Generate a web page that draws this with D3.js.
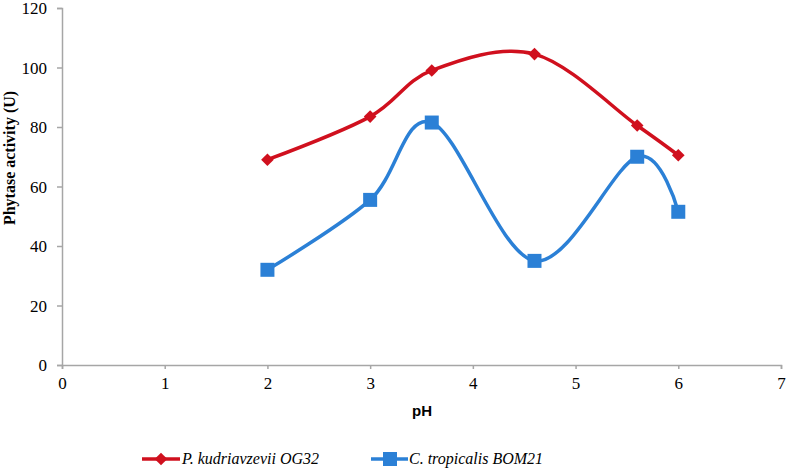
<!DOCTYPE html>
<html><head><meta charset="utf-8">
<script src="https://cdn.jsdelivr.net/npm/d3@7"></script>
<style>body{margin:0;background:#fff}svg{display:block}
.tick text{font-family:"Liberation Serif","Times New Roman",serif !important;}</style>
</head><body>
<svg id="c" width="787" height="468"></svg>
<script>
const phRed = [2, 3, 3.6, 4.6, 5.6, 6];
const redValues = [69, 83.5, 99, 104.5, 80.5, 70.5];
const phBlue = [2, 3, 3.6, 4.6, 5.6, 6];
const blueValues = [32, 55.5, 81.5, 35, 70, 51.5];
const xTicks = [0, 1, 2, 3, 4, 5, 6, 7];
const yTicks = [0, 20, 40, 60, 80, 100, 120];
const seriesNames = ["P. kudriavzevii OG32", "C. tropicalis BOM21"];
const colors = ["#d0101e", "#2b80d6"];

const svg = d3.select("#c");
const x = d3.scaleLinear().domain([0, 7]).range([62, 781]);
const y = d3.scaleLinear().domain([0, 120]).range([365, 8]);
const axisColor = "#a6a6a6";
const serif = "Liberation Serif, Times New Roman, serif";

// y axis
const ya = svg.append("g").attr("transform", `translate(${x(0)},0)`)
  .call(d3.axisLeft(y).tickValues(yTicks).tickFormat(d3.format("d")).tickSize(5).tickPadding(10));
ya.attr("font-family", serif).attr("font-size", 17);
ya.select(".domain").attr("stroke", axisColor).attr("stroke-width", 1.5);
ya.selectAll(".tick line").attr("stroke", axisColor).attr("stroke-width", 1.5);
ya.selectAll(".tick text").attr("font-family", serif).attr("font-size", 17).attr("fill", "#000").attr("dy", "0.34em");

// x axis
const xa = svg.append("g").attr("transform", `translate(0,${y(0)})`)
  .call(d3.axisBottom(x).tickValues(xTicks).tickFormat(d3.format("d")).tickSize(4).tickPadding(8));
xa.attr("font-family", serif).attr("font-size", 17);
xa.select(".domain").attr("stroke", axisColor).attr("stroke-width", 1.5);
xa.selectAll(".tick line").attr("stroke", axisColor).attr("stroke-width", 1.5);
xa.selectAll(".tick text").attr("font-family", serif).attr("font-size", 17).attr("fill", "#000");

// axis titles
svg.append("text").attr("x", 422).attr("y", 416).attr("text-anchor", "middle")
  .attr("font-family", "Liberation Sans, Arial, sans-serif").attr("font-weight", "bold")
  .attr("font-size", 15).text("pH");
svg.append("text").attr("transform", "translate(15,158) rotate(-90)").attr("text-anchor", "middle")
  .attr("font-family", serif).attr("font-weight", "bold").attr("font-size", 16).text("Phytase activity (U)");

const line = d3.line().x(d => x(d[0])).y(d => y(d[1])).curve(d3.curveCatmullRom.alpha(0));
const redData = phRed.map((p, i) => [p, redValues[i]]);
const blueData = phBlue.map((p, i) => [p, blueValues[i]]);

svg.append("path").datum(blueData).attr("d", line).attr("fill", "none")
  .attr("stroke", colors[1]).attr("stroke-width", 3.5);
svg.append("path").datum(redData).attr("d", line).attr("fill", "none")
  .attr("stroke", colors[0]).attr("stroke-width", 3.5);

svg.append("g").selectAll("path").data(redData).join("path")
  .attr("d", d3.symbol().type(d3.symbolSquare).size(80))
  .attr("transform", d => `translate(${x(d[0])},${y(d[1])}) rotate(45)`)
  .attr("fill", colors[0]);
svg.append("g").selectAll("rect").data(blueData).join("rect")
  .attr("x", d => x(d[0]) - 7).attr("y", d => y(d[1]) - 7)
  .attr("width", 14).attr("height", 14).attr("fill", colors[1]);

// legend
const ly = 459;
const lg = svg.append("g");
lg.append("line").attr("x1", 142).attr("x2", 180).attr("y1", ly).attr("y2", ly)
  .attr("stroke", colors[0]).attr("stroke-width", 3.5);
lg.append("path").attr("d", d3.symbol().type(d3.symbolSquare).size(80))
  .attr("transform", `translate(161,${ly}) rotate(45)`).attr("fill", colors[0]);
lg.append("text").attr("x", 182).attr("y", ly + 5).attr("font-family", serif)
  .attr("font-style", "italic").attr("font-size", 16).text(seriesNames[0]);
lg.append("line").attr("x1", 371).attr("x2", 408).attr("y1", ly).attr("y2", ly)
  .attr("stroke", colors[1]).attr("stroke-width", 3.5);
lg.append("rect").attr("x", 383).attr("y", ly - 7).attr("width", 14).attr("height", 14).attr("fill", colors[1]);
lg.append("text").attr("x", 409).attr("y", ly + 5).attr("font-family", serif)
  .attr("font-style", "italic").attr("font-size", 16).text(seriesNames[1]);
</script>
</body></html>
